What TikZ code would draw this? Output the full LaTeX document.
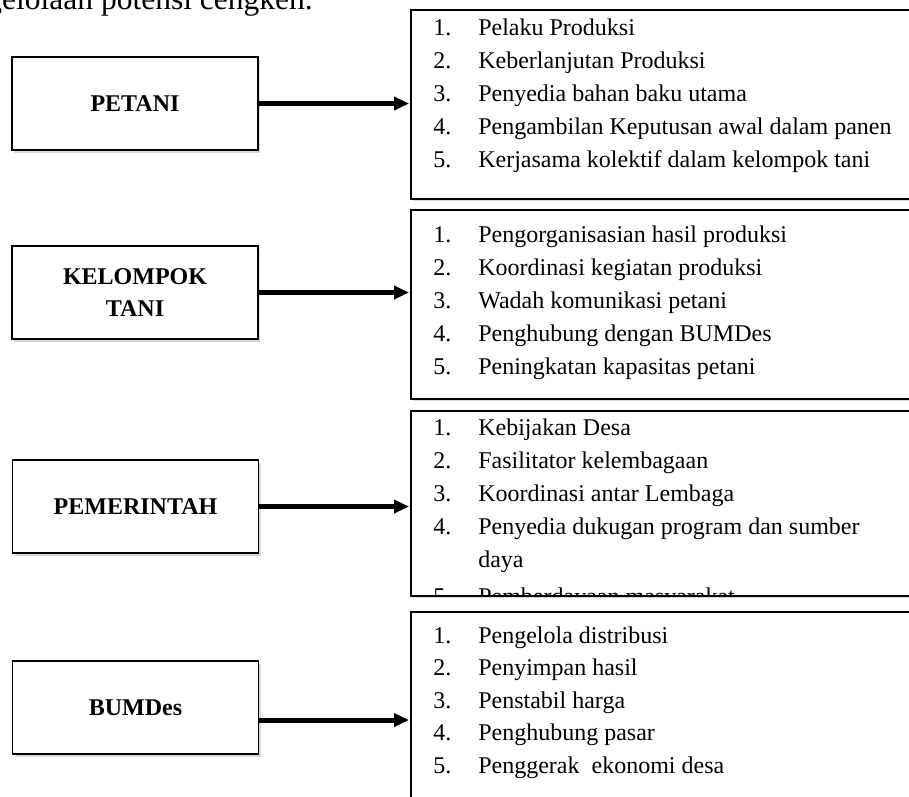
\documentclass[tikz,border=0pt]{standalone}
\usepackage{fontspec}
\setmainfont{Liberation Serif}
\usetikzlibrary{arrows.meta,shadows}

\newcommand{\butir}[2]{\hbox{\makebox[45pt][l]{#1}#2}}

\begin{document}
\begin{tikzpicture}[x=1pt,y=-1pt,semithick]
        \tikzstyle{rolebox}=[
            rectangle,
            draw=black,
            line width=1.5pt,
            fill=white,
            minimum width=246pt,
            minimum height=93pt,
            align=center,
            font=\fontsize{24}{32}\selectfont\bfseries,
            drop shadow={shadow xshift=2pt,shadow yshift=-2.5pt,opacity=0.3}
        ]
        \tikzstyle{listbox}=[
            rectangle,
            draw=black,
            line width=1.5pt,
            fill=white,
            anchor=north west,
            minimum width=560pt,
            inner sep=0pt,
            drop shadow={shadow xshift=2pt,shadow yshift=-2.5pt,opacity=0.3}
        ]
        \tikzstyle{listtext}=[
            anchor=base west,
            inner sep=0pt,
            font=\fontsize{24}{33.2}\selectfont
        ]
        \tikzstyle{roleline}=[-{Triangle[length=15pt,width=13pt]}, line width=5pt, shorten >=1pt]

        \clip (0,0) rectangle (909,796);
        \fill[white] (0,0) rectangle (909,796);

        % judul yang terpotong di atas
        \node[anchor=base east, inner sep=0pt, font=\fontsize{31.5}{36}\selectfont] (judul) at (313,9) {pengelolaan potensi cengkeh.};

        % aktor
        \node[rolebox] (petani) at (135,103.5) {PETANI};
        \node[rolebox] (kelompok) at (135,292.5) {KELOMPOK\\TANI};
        \node[rolebox] (pemerintah) at (135.5,506.5) {PEMERINTAH};
        \node[rolebox] (bumdes) at (135.5,707.5) {BUMDes};

        % peran
        \node[listbox, minimum height=189pt] (peranpetani) at (410,9) {};
        \node[listbox, minimum height=189pt] (perankelompok) at (410,209) {};
        \node[listbox, minimum height=185pt] (peranpemerintah) at (410,410) {};
        \node[listbox, minimum height=230pt] (peranbumdes) at (410,611) {};

        \node[listtext] (daftarpetani) at (433,35) {\vtop{%
            \butir{1.}{Pelaku Produksi}
            \butir{2.}{Keberlanjutan Produksi}
            \butir{3.}{Penyedia bahan baku utama}
            \butir{4.}{Pengambilan Keputusan awal dalam panen}
            \butir{5.}{Kerjasama kolektif dalam kelompok tani}}};
        \node[listtext] (daftarkelompok) at (433,242) {\vtop{%
            \butir{1.}{Pengorganisasian hasil produksi}
            \butir{2.}{Koordinasi kegiatan produksi}
            \butir{3.}{Wadah komunikasi petani}
            \butir{4.}{Penghubung dengan BUMDes}
            \butir{5.}{Peningkatan kapasitas petani}}};
        \begin{scope}
            \clip (411,411) rectangle (960,594);
            \node[listtext] (daftarpemerintah) at (433,435) {\vtop{%
                \butir{1.}{Kebijakan Desa}
                \butir{2.}{Fasilitator kelembagaan}
                \butir{3.}{Koordinasi antar Lembaga}
                \butir{4.}{Penyedia dukugan program dan sumber}
                \butir{}{daya}
                \kern3.5pt
                \butir{5.}{Pemberdayaan masyarakat}}};
        \end{scope}
        \node[listtext, font=\fontsize{24}{32.5}\selectfont] (daftarbumdes) at (433,643) {\vtop{%
            \butir{1.}{Pengelola distribusi}
            \butir{2.}{Penyimpan hasil}
            \butir{3.}{Penstabil harga}
            \butir{4.}{Penghubung pasar}
            \butir{5.}{Penggerak\ \ ekonomi desa}}};

        \coordinate (bumdeskaki) at ([yshift=-12.5pt]bumdes.east);

        \draw[roleline] (petani.east) -- (petani.east -| peranpetani.west);
        \draw[roleline] (kelompok.east) -- (kelompok.east -| perankelompok.west);
        \draw[roleline] (pemerintah.east) -- (pemerintah.east -| peranpemerintah.west);
        \draw[roleline] (bumdeskaki) -- (bumdeskaki -| peranbumdes.west);

    \end{tikzpicture}
\end{document}
